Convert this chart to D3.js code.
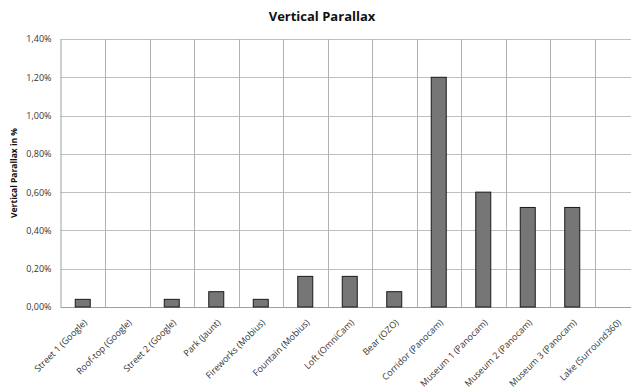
<!DOCTYPE html>
<html><head><meta charset="utf-8">
<script src="https://cdn.jsdelivr.net/npm/d3@7"></script>
<style>body{margin:0;background:#fff;} svg{display:block;}</style>
</head><body>
<script>
const categories = ["Street 1 (Google)","Roof-top (Google)","Street 2 (Google)","Park (Jaunt)","Fireworks (Mobius)","Fountain (Mobius)","Loft (OmniCam)","Bear (OZO)","Corridor (Panocam)","Museum 1 (Panocam)","Museum 2 (Panocam)","Museum 3 (Panocam)","Lake (Surround360)"];
const values = [0.04,0,0.04,0.08,0.04,0.16,0.16,0.08,1.20,0.60,0.52,0.52,0];
const yTicks = [0,0.2,0.4,0.6,0.8,1.0,1.2,1.4];
const title = "Vertical Parallax";
const yTitle = "Vertical Parallax in %";

const W=631,H=387;
const pL=60.5, pR=639, pT=39, pB=307;
const font="'Open Sans', 'Liberation Sans', sans-serif";
const svg=d3.select("body").append("svg").attr("width",W).attr("height",H);
const x=d3.scaleBand().domain(categories).range([pL,pR]).paddingInner(0).paddingOuter(0);
const y=d3.scaleLinear().domain([0,1.4]).range([pB,pT]);

// horizontal gridlines
svg.append("g").selectAll("line").data(yTicks).join("line")
  .attr("x1",pL).attr("x2",pR).attr("y1",d=>Math.round(y(d))+0.5).attr("y2",d=>Math.round(y(d))+0.5)
  .attr("stroke","#bfbfbf").attr("stroke-width",1);
// vertical gridlines
svg.append("g").selectAll("line").data(categories).join("line")
  .attr("x1",d=>Math.round(x(d)+x.bandwidth())+0.5)
  .attr("x2",d=>Math.round(x(d)+x.bandwidth())+0.5)
  .attr("y1",pT).attr("y2",pB+1)
  .attr("stroke","#b0b0b0").attr("stroke-width",1);

// axes
const yAxis=d3.axisLeft(y).tickValues(yTicks).tickSize(0).tickPadding(9)
  .tickFormat(d=>d.toFixed(2).replace(".",",")+"%");
const gy=svg.append("g").attr("transform",`translate(${pL},0)`).call(yAxis);
gy.select(".domain").attr("stroke","#a0a0a0");
gy.selectAll("text").attr("font-family",font).attr("font-size",9).attr("fill","#333");

const xAxis=d3.axisBottom(x).tickSize(0).tickPadding(0);
const gx=svg.append("g").attr("transform",`translate(0,${pB})`).call(xAxis);
gx.select(".domain").attr("stroke","#a0a0a0");
gx.selectAll("text").attr("font-family",font).attr("font-size",9).attr("fill","#333")
  .attr("text-anchor","end").attr("dy",null).attr("y",0)
  .attr("transform","translate(5,16) rotate(-45)");

// bars
const bw=15;
svg.append("g").selectAll("rect").data(values.map((v,i)=>({c:categories[i],v}))).join("rect")
  .attr("x",d=>x(d.c)+x.bandwidth()/2-bw/2)
  .attr("width",bw)
  .attr("y",d=>y(d.v))
  .attr("height",d=>y(0)-y(d.v))
  .attr("fill","#767676").attr("stroke","#1a1a1a").attr("stroke-width",1)
  .attr("display",d=>d.v>0?null:"none");

svg.append("text").attr("x",322).attr("y",21).attr("text-anchor","middle")
  .attr("font-family",font).attr("font-weight","bold").attr("font-size",13).attr("fill","#111").text(title);
svg.append("text").attr("transform",`translate(17,${(pT+pB)/2}) rotate(-90)`).attr("text-anchor","middle")
  .attr("font-family",font).attr("font-weight","bold").attr("font-size",8.5).attr("fill","#111").text(yTitle);
</script>
</body></html>
